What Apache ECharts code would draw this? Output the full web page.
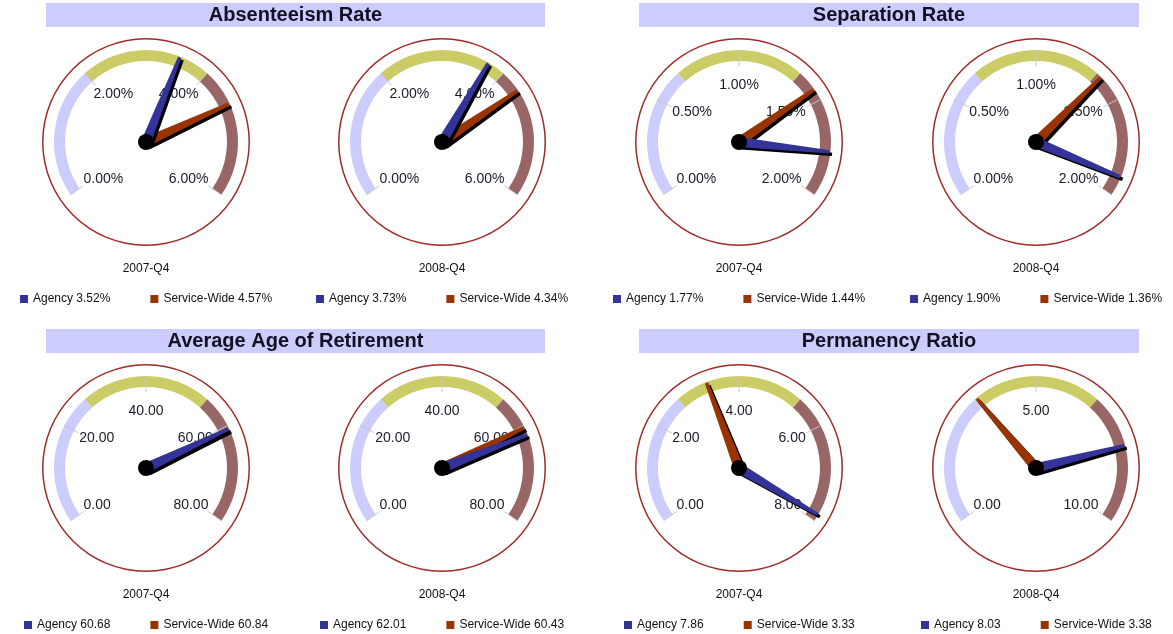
<!DOCTYPE html>
<html>
<head>
<meta charset="utf-8">
<title>Workforce Indicators</title>
<script src="https://cdn.jsdelivr.net/npm/echarts@6/dist/echarts.min.js"></script>
<style>
  html, body { margin: 0; padding: 0; background: #ffffff; }
  #chart { width: 1173px; height: 634px; }
</style>
</head>
<body>
<div id="chart"></div>
<script>
// ---- Data ----
const sections = ['Absenteeism Rate', 'Separation Rate', 'Average Age of Retirement', 'Permanency Ratio'];
const sectionUnits = ['%', '%', '', ''];
const periods = ['2007-Q4', '2008-Q4'];

// one entry per gauge: section order, then period order
const agencyValues      = [3.52, 3.73, 1.77, 1.90, 60.68, 62.01, 7.86, 8.03];
const serviceWideValues = [4.57, 4.34, 1.44, 1.36, 60.84, 60.43, 3.33, 3.38];
const gaugeTicks = [
  [0, 2, 4, 6], [0, 2, 4, 6],
  [0, 0.5, 1, 1.5, 2], [0, 0.5, 1, 1.5, 2],
  [0, 20, 40, 60, 80], [0, 20, 40, 60, 80],
  [0, 2, 4, 6, 8], [0, 5, 10]
];

// ---- Look & layout ----
const FONT = "'Liberation Sans', Arial, sans-serif";
const AGENCY_COLOR = '#333399';
const SERVICE_COLOR = '#993300';
const BAND_COLORS = ['#ccccff', '#cccc66', '#996666'];
const RING_COLOR = '#a02a2a';
const HEADER_FILL = '#ccccff';
const colX = [146, 442, 739, 1036];
const rowY = [142, 468];
const RING_R = 104, BAND_R = 92, BAND_W = 11;
const START = 215, END = -35;
const NEEDLE = 'path://M3.3,0 L6.7,0 L10,100 L0,100 Z';

const measureCtx = document.createElement('canvas').getContext('2d');
measureCtx.font = '12px ' + FONT;
const textW = s => measureCtx.measureText(s).width;

const fmt = (v, unit) => v.toFixed(2) + unit;

const series = [];
const legends = [];
const titles = [];
const graphics = [];

sections.forEach((name, s) => {
  const row = Math.floor(s / 2);
  const c0 = (s % 2) * 2;
  const x0 = colX[c0] - 100, x1 = colX[c0 + 1] + 103;
  graphics.push({
    type: 'rect', z: -10,
    shape: { x: x0, y: rowY[row] - 139, width: x1 - x0, height: 24 },
    style: { fill: HEADER_FILL }
  });
  titles.push({
    text: name, left: (x0 + x1) / 2, textAlign: 'center', top: rowY[row] - 139, padding: 0,
    textStyle: { fontFamily: FONT, fontSize: 20, fontWeight: 'bold', color: '#111122', lineHeight: 24 }
  });

  periods.forEach((period, p) => {
    const g = s * 2 + p;
    const cx = colX[c0 + p], cy = rowY[row];
    const ticks = gaugeTicks[g];
    const unit = sectionUnits[s];
    const min = ticks[0], max = ticks[ticks.length - 1];
    const agencyName = 'Agency ' + fmt(agencyValues[g], unit);
    const serviceName = 'Service-Wide ' + fmt(serviceWideValues[g], unit);
    const center = [cx, cy];

    // outer ring
    series.push({
      type: 'gauge', silent: true, center, radius: RING_R,
      startAngle: 90, endAngle: -270, min: 0, max: 1,
      axisLine: { lineStyle: { width: 1.5, color: [[1, RING_COLOR]] } },
      axisTick: { show: false }, splitLine: { show: false }, axisLabel: { show: false },
      pointer: { show: false }, anchor: { show: false }, progress: { show: false },
      title: { show: false }, detail: { show: false }, data: []
    });

    // scale with colour bands and tick labels
    series.push({
      type: 'gauge', silent: true, center, radius: BAND_R,
      startAngle: START, endAngle: END, min, max, splitNumber: ticks.length - 1,
      axisLine: { lineStyle: { width: BAND_W, color: [[1 / 3, BAND_COLORS[0]], [2 / 3, BAND_COLORS[1]], [1, BAND_COLORS[2]]] } },
      splitLine: { distance: -BAND_W, length: 16, lineStyle: { color: '#c8c8c8', width: 1 } },
      axisTick: { show: false },
      axisLabel: {
        distance: 23, color: '#1a1a2a', fontSize: 14, fontFamily: FONT,
        padding: [0, -10, 0, -10],
        formatter: v => fmt(v, unit)
      },
      pointer: { show: false }, anchor: { show: false }, progress: { show: false },
      title: { show: false }, detail: { show: false }, data: []
    });

    const needle = (nm, value, color, withAnchor) => ({
      type: 'gauge', name: nm, center, radius: BAND_R,
      startAngle: START, endAngle: END, min, max,
      axisLine: { show: false }, axisTick: { show: false }, splitLine: { show: false }, axisLabel: { show: false },
      progress: { show: false },
      itemStyle: { color },
      pointer: {
        show: true, icon: NEEDLE, length: '99%', width: 10, offsetCenter: [0, 0],
        itemStyle: { color, shadowColor: '#000000', shadowBlur: 0, shadowOffsetX: 2.5, shadowOffsetY: 2.5 }
      },
      anchor: withAnchor
        ? { show: true, showAbove: true, size: 16, icon: 'circle', itemStyle: { color: '#000000', borderWidth: 0 } }
        : { show: false },
      title: { show: false }, detail: { show: false },
      animation: false,
      data: [{ value, name: nm }]
    });
    series.push(needle(serviceName, serviceWideValues[g], SERVICE_COLOR, false));
    series.push(needle(agencyName, agencyValues[g], AGENCY_COLOR, true));

    titles.push({
      text: period, left: cx, textAlign: 'center', top: cy + 120, padding: 0,
      textStyle: { fontFamily: FONT, fontSize: 12, fontWeight: 'normal', color: '#111111', lineHeight: 14 }
    });

    const total = 8 + 5 + textW(agencyName) + 40 + 8 + 5 + textW(serviceName);
    legends.push({
      data: [agencyName, serviceName], selectedMode: false,
      left: Math.round(cx - total / 2), top: cy + 151, padding: 0,
      icon: 'rect', itemWidth: 8, itemHeight: 8, itemGap: 40,
      itemStyle: { shadowBlur: 0, shadowOffsetX: 0, shadowOffsetY: 0, borderWidth: 0 },
      textStyle: { fontFamily: FONT, fontSize: 12, color: '#111111' }
    });
  });
});

const chart = echarts.init(document.getElementById('chart'), null, { renderer: 'canvas' });
chart.setOption({
  backgroundColor: '#ffffff',
  animation: false,
  title: titles,
  legend: legends,
  graphic: graphics,
  series
});
</script>
</body>
</html>
